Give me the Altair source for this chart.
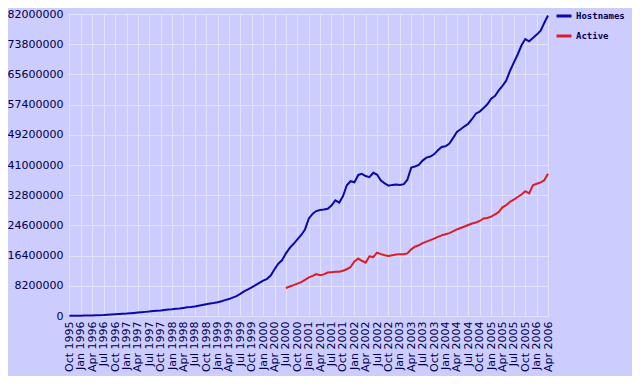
import altair as alt
import pandas as pd

# Hostnames, millions, monthly Oct 1995 .. Apr 2006
hostnames = [
    0.07, 0.07, 0.08, 0.10, 0.12, 0.14, 0.16, 0.20, 0.23, 0.27, 0.34, 0.40,
    0.46, 0.53, 0.60, 0.65, 0.74, 0.84, 0.95, 1.05, 1.12, 1.20, 1.35, 1.45,
    1.50, 1.65, 1.75, 1.83, 1.95, 2.05, 2.20, 2.35, 2.45, 2.60, 2.80, 3.00,
    3.20, 3.40, 3.55, 3.75, 4.00, 4.30, 4.60, 5.00, 5.40, 6.00, 6.70, 7.20,
    7.80, 8.40, 9.00, 9.60, 10.10, 11.00, 12.70, 14.20, 15.20, 17.00, 18.50, 19.60,
    20.80, 22.00, 23.50, 26.50, 27.80, 28.50, 28.80, 28.90, 29.10, 30.00, 31.40, 30.80,
    32.50, 35.50, 36.60, 36.30, 38.30, 38.60, 38.00, 37.70, 38.90, 38.40, 36.80, 36.00,
    35.40, 35.60, 35.70, 35.60, 35.80, 37.00, 40.30, 40.60, 41.00, 42.20, 43.00, 43.30,
    43.90, 45.00, 45.90, 46.10, 46.80, 48.30, 50.00, 50.70, 51.50, 52.20, 53.50, 55.00,
    55.50, 56.50, 57.50, 59.00, 59.80, 61.20, 62.50, 63.90, 66.60, 68.80, 71.00, 73.50,
    75.20, 74.60, 75.50, 76.40, 77.50, 79.50, 81.60,
]
# Active sites, millions, monthly Jul 2000 .. Apr 2006
active = [
    7.6, 8.0, 8.4, 8.8, 9.2, 9.8, 10.5, 10.9, 11.4, 11.1, 11.3, 11.8,
    11.9, 12.0, 12.0, 12.3, 12.7, 13.3, 14.8, 15.6, 15.0, 14.5, 16.2, 16.0,
    17.2, 16.8, 16.5, 16.3, 16.5, 16.7, 16.8, 16.8, 17.0, 18.1, 18.8, 19.2,
    19.8, 20.2, 20.6, 21.0, 21.5, 21.9, 22.2, 22.5, 23.0, 23.5, 23.9, 24.3,
    24.7, 25.1, 25.4, 25.8, 26.5, 26.6, 27.0, 27.6, 28.2, 29.5, 30.1, 31.0,
    31.6, 32.3, 33.0, 33.9, 33.3, 35.5, 35.9, 36.3, 36.8, 38.6,
]
series_names = ["Hostnames", "Active"]
series_colors = ["#0a0aa8", "#dd1c28"]
y_ticks = [0, 8200000, 16400000, 24600000, 32800000, 41000000,
           49200000, 57400000, 65600000, 73800000, 82000000]

months = pd.date_range("1995-10-01", "2006-04-01", freq="MS")
rows = []
for d, v in zip(months, hostnames):
    rows.append({"date": d.strftime("%Y-%m-%d"), "series": "Hostnames", "value": v * 1e6})
for d, v in zip(months[-len(active):], active):
    rows.append({"date": d.strftime("%Y-%m-%d"), "series": "Active", "value": v * 1e6})
df = pd.DataFrame(rows)

tick_dates = []
for d in months:
    if d.month in (1, 4, 7, 10):
        tick_dates.append(alt.DateTime(year=d.year, month=d.month, date=1, utc=True))

chart = alt.Chart(df).mark_line(strokeWidth=2).encode(
    x=alt.X("date:T",
            scale=alt.Scale(type="utc", nice=False,
                            domain=[alt.DateTime(year=1995, month=9, date=20, utc=True),
                                    alt.DateTime(year=2006, month=4, date=1, utc=True)]),
            axis=alt.Axis(values=tick_dates,
                          labelExpr="utcFormat(datum.value, '%b %Y')",
                          labelOverlap=False, labelFlush=False,
                          labelAngle=270, labelFontSize=11, labelPadding=5,
                          title=None)),
    y=alt.Y("value:Q",
            scale=alt.Scale(domain=[0, 82000000], nice=False),
            axis=alt.Axis(values=y_ticks, format="d", labelFontSize=11,
                          labelPadding=5, labelOverlap=False, title=None)),
    color=alt.Color("series:N",
                    scale=alt.Scale(domain=series_names, range=series_colors),
                    legend=alt.Legend(title=None, orient="none", legendX=487, legendY=-7,
                                      symbolType="stroke", symbolSize=225,
                                      symbolStrokeWidth=3, labelOffset=3,
                                      rowPadding=5, padding=0,
                                      labelFont="DejaVu Sans Mono", labelFontWeight="bold",
                                      labelFontSize=9, labelColor="#000055",
                                      labelLimit=80)),
    detail="series:N",
).properties(
    width=480, height=302,
    autosize=alt.AutoSizeParams(type="none"),
    padding={"left": 60, "top": 6, "right": 84, "bottom": 60},
    background="#CCCCFF",
).configure_view(
    stroke=None, fill="#CCCCFF"
).configure_axis(
    domain=False, ticks=False, grid=True, gridColor="#E2E2F6", gridWidth=1,
    gridOpacity=1, labelColor="#00004d", labelFont="DejaVu Sans",
)

chart.save("out.html", embed_options={"renderer": "svg", "actions": False})
